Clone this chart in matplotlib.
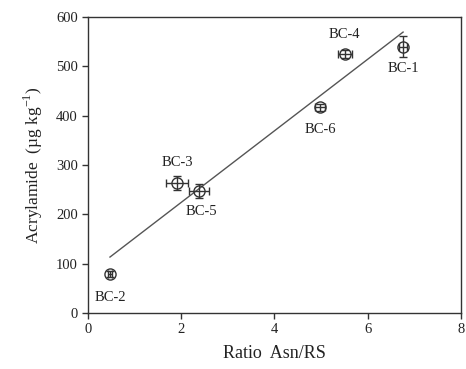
import numpy as np
import matplotlib
matplotlib.use('Agg')
import matplotlib.pyplot as plt

plt.rcParams['font.family'] = ['Liberation Serif', 'DejaVu Serif']
plt.rcParams['mathtext.fontset'] = 'custom'
plt.rcParams['mathtext.rm'] = 'Liberation Serif'

labels = ['BC-1', 'BC-2', 'BC-3', 'BC-4', 'BC-5', 'BC-6']
ratio = [6.76, 0.47, 1.91, 5.51, 2.38, 4.98]
ratio_err = [0.08, 0.05, 0.23, 0.15, 0.21, 0.10]
acrylamide = [540, 79, 263, 525, 247, 417]
acrylamide_err = [22, 6, 14, 8, 14, 7]
# label offsets in points (dx, dy)
label_offsets = [(0, -16), (0, -17), (0, 15), (0, 14), (2, -15), (0, -16)]

fig = plt.figure(figsize=(4.66, 3.69), dpi=100)
ax = fig.add_axes([0.189, 0.152, 0.800, 0.802])

col = '#333333'
ax.errorbar(ratio, acrylamide, xerr=ratio_err, yerr=acrylamide_err, fmt='o',
            mfc='none', mec=col, ms=8, mew=1.0, ecolor=col, elinewidth=1.0,
            capsize=3, capthick=1.0, zorder=3)

slope, intercept = np.polyfit(ratio, acrylamide, 1)
xs = np.array([min(ratio), max(ratio)])
ax.plot(xs, slope * xs + intercept, color='#555555', lw=1.0, zorder=2)

for lab, x, y, off in zip(labels, ratio, acrylamide, label_offsets):
    ax.annotate(lab, (x, y), xytext=off, textcoords='offset points',
                ha='center', va='center', fontsize=10.5, color='#222222')

ax.set_xlim(0, 8)
ax.set_ylim(0, 600)
ax.set_xticks(range(0, 9, 2))
ax.set_yticks(range(0, 601, 100))
ax.tick_params(direction='out', length=4, width=1, colors=col, labelsize=10.5,
               top=False, right=False, labelcolor='#222222')
for s in ax.spines.values():
    s.set_color(col)
    s.set_linewidth(1.0)

ax.set_xlabel('Ratio  Asn/RS', fontsize=13, color='#222222', labelpad=6)
ax.set_ylabel('Acrylamide  (µg kg$^{\\mathregular{-1}}$)', fontsize=12.5,
              color='#222222', labelpad=8)

fig.savefig('out.png', dpi=100)
